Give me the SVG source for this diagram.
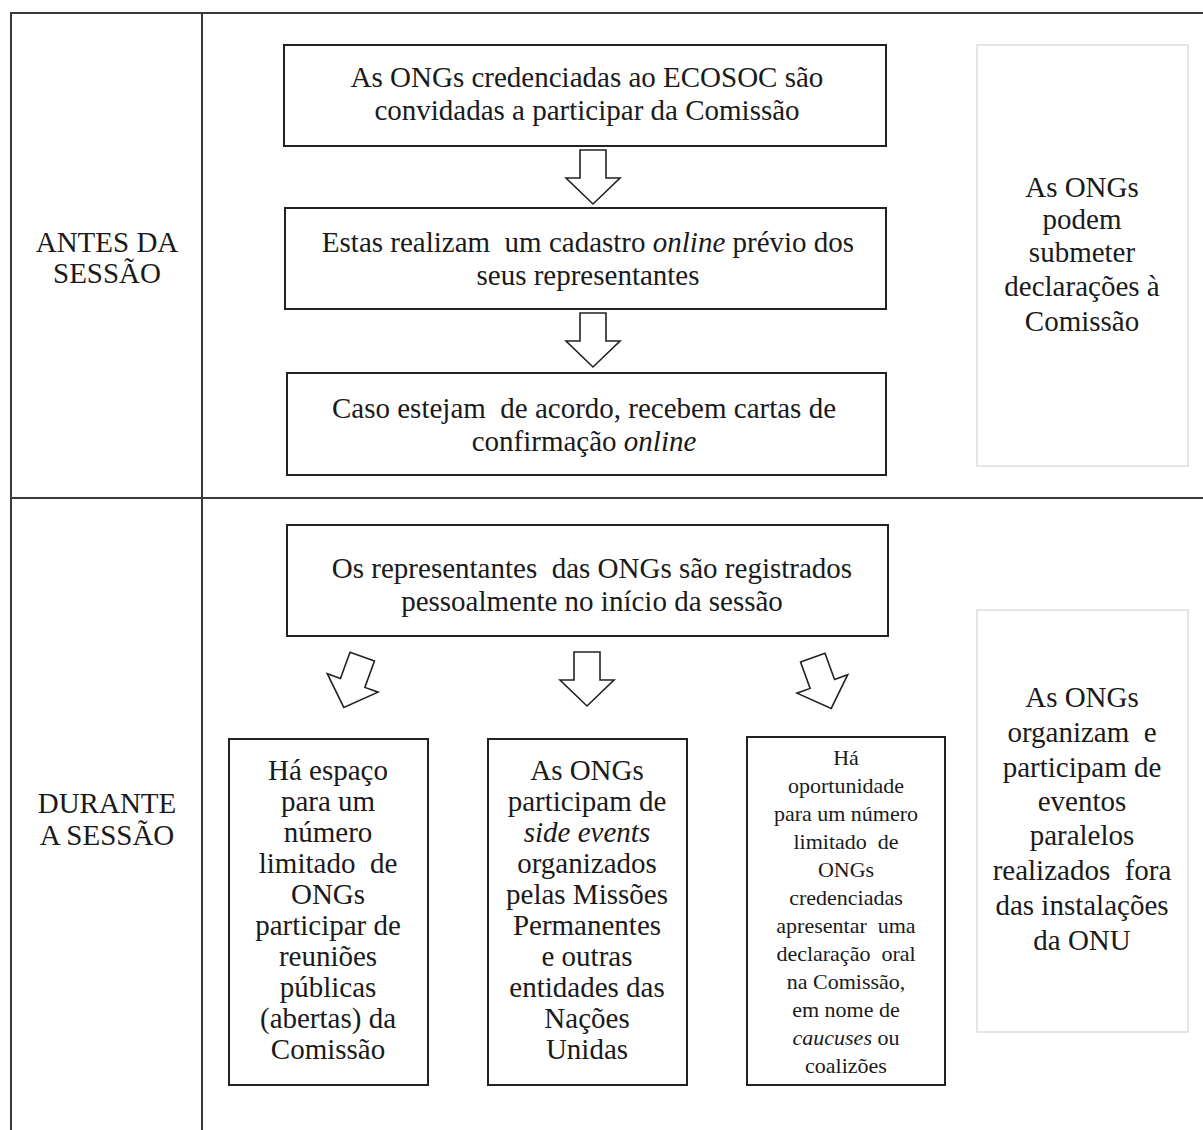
<svg xmlns="http://www.w3.org/2000/svg" width="1203" height="1130" viewBox="0 0 1203 1130" font-family="'Liberation Serif', 'Times New Roman', Times, 'DejaVu Serif', serif">
<style>
.grid{stroke:#3a3a3a;stroke-width:2;fill:none}
.box{fill:#fff;stroke:#222;stroke-width:2}
.side{fill:#fff;stroke:#ddd;stroke-width:1.5}
text{fill:#1a1a1a;text-anchor:middle;white-space:pre}
.m{font-size:29px}
.l{font-size:29.5px}
.s{font-size:22px}
.i{font-style:italic}
.arr{fill:#fff;stroke:#222;stroke-width:1.6;stroke-linejoin:miter}
</style>
<defs>
<path id="arrow" d="M-13,-27 L13,-27 L13,1 L27,1 L0,27 L-27,1 L-13,1 Z"/>
</defs>
<rect width="1203" height="1130" fill="#fff"/>
<g id="table">
<line class="grid" x1="11" y1="13" x2="1203" y2="13"/>
<line class="grid" x1="11" y1="12" x2="11" y2="1130"/>
<line class="grid" x1="202" y1="13" x2="202" y2="1130"/>
<line class="grid" x1="11" y1="498" x2="1203" y2="498"/>
</g>
<g id="label-antes">
<text class="m" x="107" y="252">ANTES DA</text>
<text class="m" x="107" y="283">SESSÃO</text>
</g>
<g id="label-durante">
<text class="m" x="107" y="813">DURANTE</text>
<text class="m" x="107" y="845">A SESSÃO</text>
</g>
<g id="n1">
<rect class="box" x="284" y="45" width="602" height="101"/>
<text class="m" x="587" y="87">As ONGs credenciadas ao ECOSOC são</text>
<text class="m" x="587" y="120">convidadas a participar da Comissão</text>
</g>
<g id="n2">
<rect class="box" x="285" y="208" width="601" height="101"/>
<text class="m" x="588" y="252">Estas realizam  um cadastro <tspan class="i">online</tspan> prévio dos</text>
<text class="m" x="588" y="285">seus representantes</text>
</g>
<g id="n3">
<rect class="box" x="287" y="373" width="599" height="102"/>
<text class="m" x="584" y="418">Caso estejam  de acordo, recebem cartas de</text>
<text class="m" x="584" y="451">confirmação <tspan class="i">online</tspan></text>
</g>
<g id="r1">
<rect class="side" x="977" y="45" width="211" height="421"/>
<text class="m" x="1082" y="197">As ONGs</text>
<text class="m" x="1082" y="229">podem</text>
<text class="m" x="1082" y="262">submeter</text>
<text class="m" x="1082" y="296">declarações à</text>
<text class="m" x="1082" y="331">Comissão</text>
</g>
<g id="n4">
<rect class="box" x="287" y="525" width="601" height="111"/>
<text class="m" x="592" y="578">Os representantes  das ONGs são registrados</text>
<text class="m" x="592" y="611">pessoalmente no início da sessão</text>
</g>
<g id="n5">
<rect class="box" x="229" y="739" width="199" height="346"/>
<text class="m" x="328" y="780">Há espaço</text>
<text class="m" x="328" y="811">para um</text>
<text class="m" x="328" y="842">número</text>
<text class="m" x="328" y="873">limitado  de</text>
<text class="m" x="328" y="904">ONGs</text>
<text class="m" x="328" y="935">participar de</text>
<text class="m" x="328" y="966">reuniões</text>
<text class="m" x="328" y="997">públicas</text>
<text class="m" x="328" y="1028">(abertas) da</text>
<text class="m" x="328" y="1059">Comissão</text>
</g>
<g id="n6">
<rect class="box" x="488" y="739" width="199" height="346"/>
<text class="m" x="587" y="780">As ONGs</text>
<text class="m" x="587" y="811">participam de</text>
<text class="m i" x="587" y="842">side events</text>
<text class="m" x="587" y="873">organizados</text>
<text class="m" x="587" y="904">pelas Missões</text>
<text class="m" x="587" y="935">Permanentes</text>
<text class="m" x="587" y="966">e outras</text>
<text class="m" x="587" y="997">entidades das</text>
<text class="m" x="587" y="1028">Nações</text>
<text class="m" x="587" y="1059">Unidas</text>
</g>
<g id="n7">
<rect class="box" x="747" y="737" width="198" height="348"/>
<text class="s" x="846" y="765">Há</text>
<text class="s" x="846" y="793">oportunidade</text>
<text class="s" x="846" y="821">para um número</text>
<text class="s" x="846" y="849">limitado  de</text>
<text class="s" x="846" y="877">ONGs</text>
<text class="s" x="846" y="905">credenciadas</text>
<text class="s" x="846" y="933">apresentar  uma</text>
<text class="s" x="846" y="961">declaração  oral</text>
<text class="s" x="846" y="989">na Comissão,</text>
<text class="s" x="846" y="1017">em nome de</text>
<text class="s" x="846" y="1045"><tspan class="i">caucuses</tspan> ou</text>
<text class="s" x="846" y="1073">coalizões</text>
</g>
<g id="r2">
<rect class="side" x="977" y="610" width="211" height="422"/>
<text class="m" x="1082" y="707">As ONGs</text>
<text class="m" x="1082" y="742">organizam  e</text>
<text class="m" x="1082" y="777">participam de</text>
<text class="m" x="1082" y="811">eventos</text>
<text class="m" x="1082" y="845">paralelos</text>
<text class="m" x="1082" y="880">realizados  fora</text>
<text class="m" x="1082" y="915">das instalações</text>
<text class="m" x="1082" y="950">da ONU</text>
</g>
<g id="connectors">
<use href="#arrow" class="arr" transform="translate(593,177)"/>
<use href="#arrow" class="arr" transform="translate(593,340)"/>
<use href="#arrow" class="arr" transform="translate(353,682) rotate(20)"/>
<use href="#arrow" class="arr" transform="translate(587,679)"/>
<use href="#arrow" class="arr" transform="translate(822,683) rotate(-20)"/>
</g>
</svg>
